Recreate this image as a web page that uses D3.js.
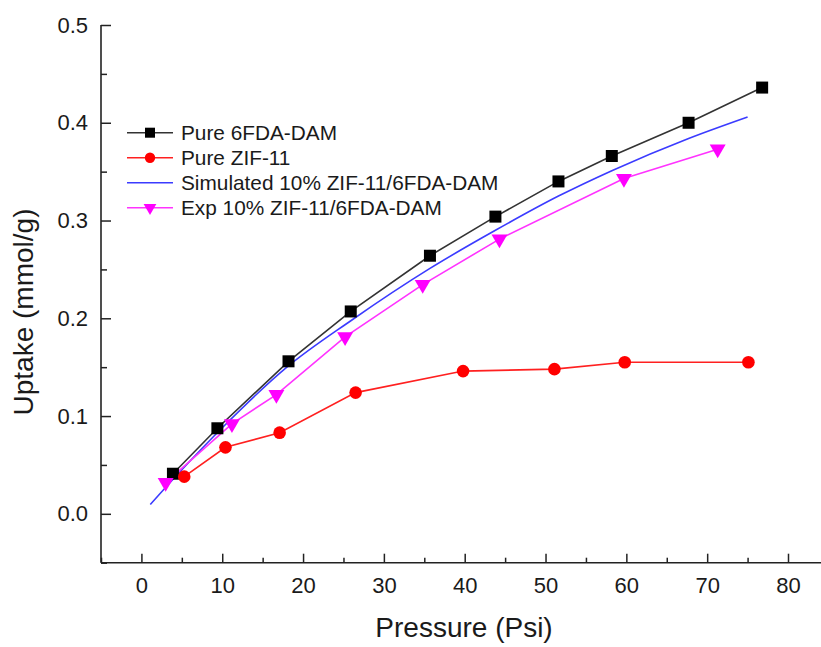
<!DOCTYPE html>
<html><head><meta charset="utf-8">
<script src="https://cdn.jsdelivr.net/npm/d3@7"></script>
<style>html,body{margin:0;padding:0;background:#fff;}svg{display:block;font-family:"Liberation Sans",Arial,sans-serif;}</style>
</head><body>
<svg id="chart" width="821" height="647"></svg>
<script>
// Pure 6FDA-DAM
const pureDAM_x = [3.9, 9.4, 18.2, 25.9, 35.7, 43.8, 51.6, 58.2, 67.7, 76.8];
const pureDAM_y = [0.041, 0.0875, 0.156, 0.207, 0.264, 0.304, 0.340, 0.366, 0.400, 0.436];
// Pure ZIF-11
const zif_x = [5.3, 10.4, 17.1, 26.5, 39.8, 51.1, 59.8, 75.1];
const zif_y = [0.038, 0.068, 0.083, 0.124, 0.146, 0.148, 0.155, 0.155];
// Simulated 10% ZIF-11/6FDA-DAM
const sim_x = [1.1, 5.0, 10.0, 18.0, 26.0, 35.7, 43.8, 51.6, 58.2, 67.7, 75.0];
const sim_y = [0.0095, 0.045, 0.088, 0.150, 0.198, 0.251, 0.290, 0.325, 0.351, 0.384, 0.406];
// Exp 10% ZIF-11/6FDA-DAM
const exp_x = [3.0, 11.2, 16.7, 25.2, 34.8, 44.3, 59.7, 71.3];
const exp_y = [0.032, 0.092, 0.122, 0.181, 0.2345, 0.281, 0.343, 0.373];

const xTicks = [0, 10, 20, 30, 40, 50, 60, 70, 80];
const xMinor = [-5, 5, 15, 25, 35, 45, 55, 65, 75];
const yTicks = [0.0, 0.1, 0.2, 0.3, 0.4, 0.5];
const yMinor = [-0.05, 0.05, 0.15, 0.25, 0.35, 0.45];
const legendLabels = ["Pure 6FDA-DAM", "Pure ZIF-11", "Simulated 10% ZIF-11/6FDA-DAM", "Exp 10% ZIF-11/6FDA-DAM"];

const svg = d3.select("#chart");
const x = d3.scaleLinear().domain([-5, 80]).range([101, 788]);
const y = d3.scaleLinear().domain([-0.05, 0.5]).range([562.7, 25]);
const axisColor = "#222";
const textColor = "#1a1a1a";

// axes
const gx = svg.append("g").attr("transform", "translate(0,562.7)");
gx.call(d3.axisBottom(x).tickValues(xTicks).tickSize(-9).tickPadding(15).tickFormat(d3.format("d")));
const gxm = svg.append("g").attr("transform", "translate(0,562.7)");
gxm.call(d3.axisBottom(x).tickValues(xMinor).tickSize(-5).tickFormat(""));
const gy = svg.append("g").attr("transform", "translate(101,0)");
gy.call(d3.axisLeft(y).tickValues(yTicks).tickSize(-10).tickPadding(13).tickFormat(d3.format(".1f")));
const gym = svg.append("g").attr("transform", "translate(101,0)");
gym.call(d3.axisLeft(y).tickValues(yMinor).tickSize(-6).tickFormat(""));
[gx, gxm, gy, gym].forEach(g => {
  g.select(".domain").remove();
  g.selectAll("line").attr("stroke", axisColor).attr("stroke-width", 1.5);
  g.selectAll("text").attr("fill", textColor).style("font-size", "22px").style("font-family", '"Liberation Sans",Arial,sans-serif');
});
// axis lines
svg.append("line").attr("x1", 101).attr("x2", 821).attr("y1", 562.7).attr("y2", 562.7)
  .attr("stroke", axisColor).attr("stroke-width", 1.6);
svg.append("line").attr("x1", 101).attr("x2", 101).attr("y1", y(0.5)).attr("y2", 562.7)
  .attr("stroke", axisColor).attr("stroke-width", 1.6);

// titles
svg.append("text").attr("x", 464).attr("y", 637).attr("text-anchor", "middle")
  .attr("fill", textColor).style("font-size", "28px").text("Pressure (Psi)");
svg.append("text").attr("transform", "translate(33,312) rotate(-90)").attr("text-anchor", "middle")
  .attr("fill", textColor).style("font-size", "28px").text("Uptake (mmol/g)");

const line = d3.line().x(d => x(d[0])).y(d => y(d[1]));
const zipd = (a, b) => a.map((v, i) => [v, b[i]]);

const dam = zipd(pureDAM_x, pureDAM_y);
const zif = zipd(zif_x, zif_y);
const sim = zipd(sim_x, sim_y);
const ex = zipd(exp_x, exp_y);

svg.append("path").attr("d", line.curve(d3.curveLinear)(dam)).attr("fill", "none").attr("stroke", "#333").attr("stroke-width", 1.6);
svg.append("path").attr("d", line.curve(d3.curveLinear)(zif)).attr("fill", "none").attr("stroke", "#ff2020").attr("stroke-width", 1.6);
svg.append("path").attr("d", line.curve(d3.curveMonotoneX)(sim)).attr("fill", "none").attr("stroke", "#3b3bff").attr("stroke-width", 1.6);
svg.append("path").attr("d", line.curve(d3.curveLinear)(ex)).attr("fill", "none").attr("stroke", "#ff33ff").attr("stroke-width", 1.6);

// markers
svg.append("g").selectAll("rect").data(dam).join("rect")
  .attr("x", d => x(d[0]) - 6).attr("y", d => y(d[1]) - 6).attr("width", 12).attr("height", 12).attr("fill", "#000");
svg.append("g").selectAll("circle").data(zif).join("circle")
  .attr("cx", d => x(d[0])).attr("cy", d => y(d[1])).attr("r", 6.3).attr("fill", "#ff0000");
const tri = d3.symbol().type(d3.symbolTriangle).size(110);
svg.append("g").selectAll("path").data(ex).join("path")
  .attr("d", tri).attr("transform", d => `translate(${x(d[0])},${y(d[1])}) rotate(180)`).attr("fill", "#ff00ff");

// legend
const legY = [132.7, 157.7, 182.7, 207.7];
const legColors = ["#333", "#ff2020", "#3b3bff", "#ff33ff"];
const lg = svg.append("g");
legendLabels.forEach((lab, i) => {
  lg.append("line").attr("x1", 127).attr("x2", 173).attr("y1", legY[i]).attr("y2", legY[i])
    .attr("stroke", legColors[i]).attr("stroke-width", 1.6);
  lg.append("text").attr("x", 181).attr("y", legY[i]).attr("dy", "0.36em")
    .attr("fill", textColor).style("font-size", "20.8px").text(lab);
});
lg.append("rect").attr("x", 150 - 5).attr("y", legY[0] - 5).attr("width", 10).attr("height", 10).attr("fill", "#000");
lg.append("circle").attr("cx", 150).attr("cy", legY[1]).attr("r", 5.2).attr("fill", "#ff0000");
lg.append("path").attr("d", d3.symbol().type(d3.symbolTriangle).size(70))
  .attr("transform", `translate(150,${legY[3]}) rotate(180)`).attr("fill", "#ff00ff");
</script>
</body></html>
